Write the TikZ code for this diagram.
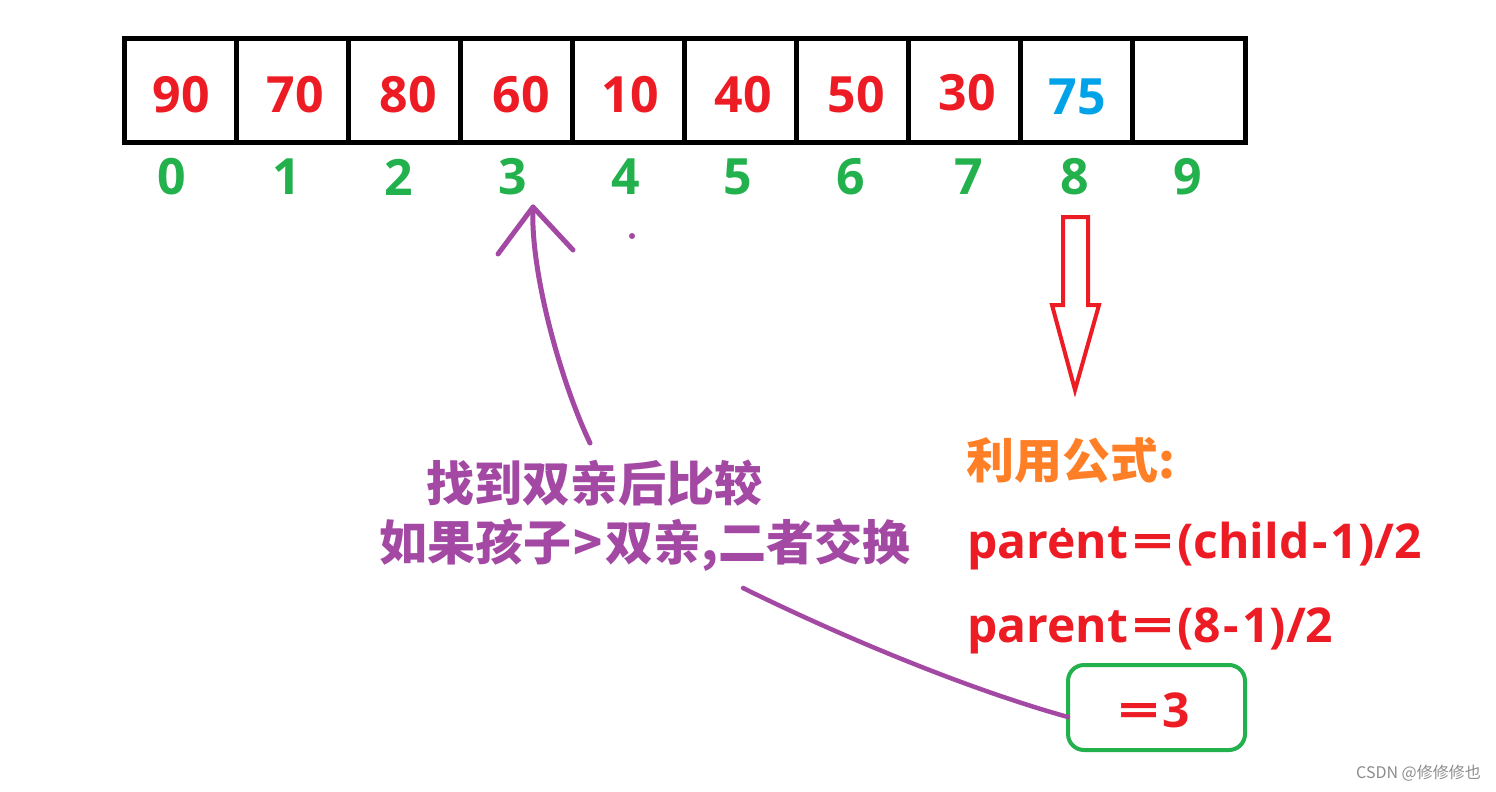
\documentclass[tikz,border=0pt]{standalone}
\usepackage{graphicx}
\usepackage{fontspec}
\setmainfont{Open Sans}
\newfontfamily\cjk{Noto Sans CJK SC}
\definecolor{pred}{HTML}{ED1C24}
\definecolor{pgreen}{HTML}{22B14C}
\definecolor{pblue}{HTML}{00A2E8}
\definecolor{porange}{HTML}{FF7F27}
\definecolor{ppurple}{HTML}{A349A4}
\newcommand{\wEq}{\scalebox{1.5}[1]{=}}
\newcommand{\sEq}{\kern4pt\wEq\kern4pt}
\newcommand{\sMi}{\kern3pt-\kern3pt}
\tikzset{
  cell/.style={draw=black, line width=5pt, minimum width=112.1pt, minimum height=103pt, inner sep=0pt},
  val/.style={text=pred, font=\fontsize{50}{50}\selectfont\bfseries, inner sep=0pt},
  idx/.style={text=pgreen, font=\fontsize{50}{50}\selectfont\bfseries, inner sep=0pt},
  zh/.style={text=ppurple, font=\cjk\fontsize{48}{48}\selectfont\bfseries, inner sep=0pt},
  formula/.style={text=pred, font=\fontsize{48}{48}\selectfont\bfseries, inner sep=0pt, anchor=base west},
  pline/.style={draw=ppurple, line width=5pt, line cap=round, line join=round},
}
\begin{document}
\begin{tikzpicture}[x=1pt, y=-1pt]
\useasboundingbox (0,0) rectangle (1496,792);
% array cells
\foreach \i in {0,...,9}{
  \node[cell] (c\i) at ({124+112.1*(\i+0.5)}, 90.5) {};
}
% values
\node[val] (v0) at (181,95) {90};
\node[val] (v1) at (295,95) {70};
\node[val] (v2) at (408,95) {80};
\node[val] (v3) at (521,95) {60};
\node[val] (v4) at (630,95) {10};
\node[val] (v5) at (743,95) {40};
\node[val] (v6) at (856,95) {50};
\node[val] (v7) at (967,93) {30};
\node[val, text=pblue] (v8) at (1077,97) {75};
% indices
\node[idx] (i0) at (172,177) {0};
\node[idx] (i1) at (287,177) {1};
\node[idx] (i2) at (399,177) {2};
\node[idx] (i3) at (513,177) {3};
\node[idx] (i4) at (626,177) {4};
\node[idx] (i5) at (738,177) {5};
\node[idx] (i6) at (851,177) {6};
\node[idx] (i7) at (969,177) {7};
\node[idx] (i8) at (1075,177) {8};
\node[idx] (i9) at (1188,177) {9};
% red hollow arrow
\draw[draw=pred, line width=4pt, line join=miter]
  (1063,217) -- (1088,217) -- (1088,305) -- (1099,305) -- (1075,390) -- (1052,305) -- (1063,305) -- cycle;
% purple texts
\node[zh] (t1) at (594,483) {找到双亲后比较};
\node[zh] (t2) at (645,545) {如果孩子\kern2pt>\kern2pt双亲,二者交换};
% formula
\node[text=porange, font=\cjk\fontsize{48}{48}\selectfont\bfseries, inner sep=0pt, anchor=west] (f0) at (966,460) {利用公式:};
\node[formula] (f1) at (967,558) {parent\sEq(child\sMi1)/2};
\node[formula] (f2) at (967,642) {parent\sEq(8\sMi1)/2};
% result box
\node[draw=pgreen, line width=4pt, rounded corners=16pt, minimum width=177pt, minimum height=85pt, inner sep=0pt] (bx) at (1156.5,707.5) {};
\node[text=pred, font=\fontsize{48}{48}\selectfont\bfseries, inner sep=0pt] (r) at (1154,710) {\wEq\kern3pt3};
% purple arrow up to index 3
\coordinate (pa) at (590,443);
\coordinate (pt) at (533,207);
\coordinate (hl) at (498,254);
\coordinate (hr) at (573,250);
\draw[pline] (pa) .. controls (560,380) and (530,270) .. (pt);
\draw[pline] (hl) -- (pt) -- (hr);
% purple connector to result box
\coordinate (b1) at (743,588);
\coordinate (b2) at (1068,717);
\draw[pline, line width=4.5pt] (b1) .. controls (830,631) and (960,687) .. (b2);
% stray dots
\fill[ppurple] (632,236) circle (3pt);
\fill[pred] (1063,530) circle (2.5pt);
% watermark
\node[text=black!45, font=\cjk\fontsize{16}{16}\selectfont, inner sep=0pt, anchor=east] (wm) at (1481,773) {CSDN @修修修也};
\end{tikzpicture}
\end{document}
